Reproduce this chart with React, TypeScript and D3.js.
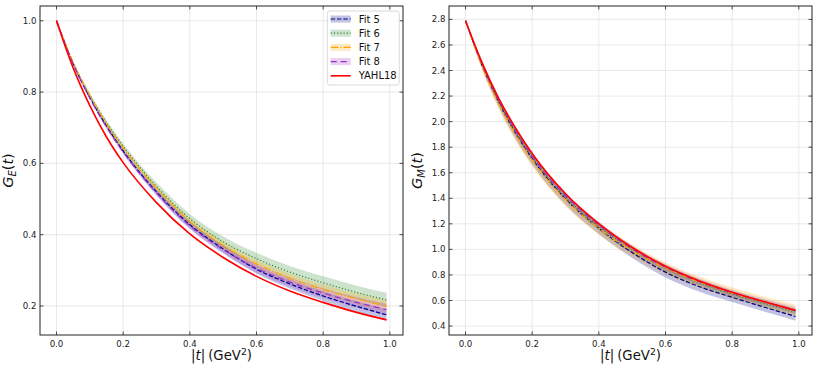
import React from "react";
import * as d3 from "d3";

// |t| sample points (GeV^2)
const tVals = [0, 0.05, 0.1, 0.15, 0.2, 0.3, 0.4, 0.5, 0.6, 0.7, 0.8, 0.9, 0.99];

// G_E(t)
const geYahl = [1.0, 0.868, 0.762, 0.674, 0.602, 0.49, 0.402, 0.336, 0.283, 0.242, 0.21, 0.182, 0.161];
const geFit5 = [1.0, 0.88, 0.785, 0.705, 0.635, 0.52, 0.428, 0.36, 0.303, 0.262, 0.228, 0.199, 0.175];
const geFit6 = [1.0, 0.883, 0.792, 0.714, 0.648, 0.535, 0.445, 0.38, 0.333, 0.295, 0.265, 0.238, 0.217];
const geFit7 = [1.0, 0.882, 0.79, 0.711, 0.643, 0.53, 0.437, 0.37, 0.318, 0.278, 0.246, 0.22, 0.2];
const geFit8 = [1.0, 0.879, 0.783, 0.702, 0.632, 0.517, 0.425, 0.358, 0.306, 0.267, 0.236, 0.21, 0.19];
const geErr5 = [0, 0.002, 0.004, 0.005, 0.006, 0.008, 0.01, 0.011, 0.012, 0.013, 0.014, 0.015, 0.016];
const geErr6 = [0, 0.003, 0.005, 0.007, 0.008, 0.011, 0.013, 0.015, 0.016, 0.017, 0.018, 0.019, 0.02];
const geErr7 = [0, 0.002, 0.004, 0.005, 0.006, 0.008, 0.01, 0.011, 0.012, 0.013, 0.014, 0.015, 0.016];
const geErr8 = [0, 0.002, 0.004, 0.005, 0.006, 0.008, 0.01, 0.011, 0.012, 0.013, 0.014, 0.015, 0.016];

// G_M(t)
const gmYahl = [2.79, 2.46, 2.18, 1.95, 1.75, 1.435, 1.2, 1.015, 0.868, 0.755, 0.665, 0.588, 0.522];
const gmFit5 = [2.79, 2.44, 2.15, 1.91, 1.71, 1.395, 1.165, 0.975, 0.822, 0.71, 0.625, 0.545, 0.475];
const gmFit6 = [2.79, 2.445, 2.16, 1.925, 1.725, 1.41, 1.18, 0.995, 0.85, 0.74, 0.65, 0.575, 0.512];
const gmFit7 = [2.79, 2.43, 2.14, 1.9, 1.7, 1.39, 1.165, 0.99, 0.852, 0.745, 0.658, 0.585, 0.522];
const gmFit8 = [2.79, 2.445, 2.165, 1.93, 1.73, 1.42, 1.19, 1.005, 0.86, 0.75, 0.66, 0.586, 0.525];
const gmErr5 = [0, 0.025, 0.038, 0.044, 0.046, 0.046, 0.045, 0.043, 0.041, 0.039, 0.037, 0.035, 0.033];
const gmErr6 = [0, 0.015, 0.024, 0.028, 0.03, 0.03, 0.03, 0.029, 0.028, 0.027, 0.026, 0.025, 0.024];
const gmErr7 = [0, 0.03, 0.045, 0.05, 0.052, 0.052, 0.05, 0.048, 0.046, 0.044, 0.043, 0.043, 0.045];
const gmErr8 = [0, 0.015, 0.022, 0.025, 0.026, 0.026, 0.026, 0.025, 0.025, 0.024, 0.024, 0.024, 0.024];

const xTicks = [0, 0.2, 0.4, 0.6, 0.8, 1.0];
const geTicks = [0.2, 0.4, 0.6, 0.8, 1.0];
const gmTicks = [0.4, 0.6, 0.8, 1.0, 1.2, 1.4, 1.6, 1.8, 2.0, 2.2, 2.4, 2.6, 2.8];

const fitNames = ["Fit 5", "Fit 6", "Fit 7", "Fit 8"];
const fitColors = ["#00008b", "#2e8b2e", "#ffa500", "#9932cc"];
const fitDashes = ["4.4,1.9", "1.2,2", "7.7,1.9,1.2,1.9", "6,4"];
const yahlName = "YAHL18";
const yahlColor = "#ff0000";

const FONT = "DejaVu Sans, sans-serif";
const TOP = 6, BOTTOM = 335;

function Panel({ x0, x1, yDomain, yTicks, yahl, fits, errs, sub, legend }: any) {
  const x = d3.scaleLinear().domain([-0.0495, 1.0395]).range([x0, x1]);
  const y = d3.scaleLinear().domain(yDomain).range([BOTTOM, TOP]);
  const line = d3.line<number>().x((_, i) => x(tVals[i])).y((d) => y(d)).curve(d3.curveMonotoneX);
  const bandFor = (vals: number[], err: number[]) =>
    d3.area<number>()
      .x((_, i) => x(tVals[i]))
      .y0((d, i) => y(d - err[i]))
      .y1((d, i) => y(d + err[i]))
      .curve(d3.curveMonotoneX)(vals) as string;
  const tk = 3.5;
  const midY = (TOP + BOTTOM) / 2;
  const labX = x0 - 27;
  return (
    <g>
      {/* grid */}
      {xTicks.map((v) => (
        <line key={"gx" + v} x1={x(v)} x2={x(v)} y1={TOP} y2={BOTTOM} stroke="#e3e3e3" strokeWidth={0.8} />
      ))}
      {yTicks.map((v: number) => (
        <line key={"gy" + v} x1={x0} x2={x1} y1={y(v)} y2={y(v)} stroke="#e3e3e3" strokeWidth={0.8} />
      ))}
      {/* bands */}
      {fits.map((f: number[], i: number) => (
        <path key={"b" + i} d={bandFor(f, errs[i])} fill={fitColors[i]} fillOpacity={0.24} stroke="none" />
      ))}
      {/* lines */}
      {fits.map((f: number[], i: number) => (
        <path key={"l" + i} d={line(f) as string} fill="none" stroke={fitColors[i]} strokeWidth={1.2} strokeDasharray={fitDashes[i]} />
      ))}
      <path d={line(yahl) as string} fill="none" stroke={yahlColor} strokeWidth={1.6} />
      {/* frame */}
      <rect x={x0} y={TOP} width={x1 - x0} height={BOTTOM - TOP} fill="none" stroke="#222" strokeWidth={1} />
      {/* ticks */}
      {xTicks.map((v) => (
        <g key={"tx" + v}>
          <line x1={x(v)} x2={x(v)} y1={BOTTOM} y2={BOTTOM - tk} stroke="#222" strokeWidth={0.8} />
          <line x1={x(v)} x2={x(v)} y1={TOP} y2={TOP + tk} stroke="#222" strokeWidth={0.8} />
          <text x={x(v)} y={BOTTOM + 11.5} textAnchor="middle" fontSize={8.6} fill="#222" fontFamily={FONT}>
            {v.toFixed(1)}
          </text>
        </g>
      ))}
      {yTicks.map((v: number) => (
        <g key={"ty" + v}>
          <line x1={x0} x2={x0 + tk} y1={y(v)} y2={y(v)} stroke="#222" strokeWidth={0.8} />
          <line x1={x1} x2={x1 - tk} y1={y(v)} y2={y(v)} stroke="#222" strokeWidth={0.8} />
          <text x={x0 - 3.5} y={y(v) + 3} textAnchor="end" fontSize={8.6} fill="#222" fontFamily={FONT}>
            {v.toFixed(1)}
          </text>
        </g>
      ))}
      {/* x label */}
      <text x={(x0 + x1) / 2} y={360} textAnchor="middle" fontSize={13.3} fill="#111" fontFamily={FONT}>
        <tspan>|</tspan>
        <tspan fontStyle="italic">t</tspan>
        <tspan>|</tspan>
        <tspan dx={3}>(GeV</tspan>
        <tspan fontSize={9.3} dy={-5}>2</tspan>
        <tspan dy={5}>)</tspan>
      </text>
      {/* y label */}
      <text transform={`translate(${labX},${midY}) rotate(-90)`} textAnchor="middle" fontSize={14.5} fill="#111" fontFamily={FONT}>
        <tspan fontStyle="italic">G</tspan>
        <tspan fontStyle="italic" fontSize={10} dy={3}>{sub}</tspan>
        <tspan dy={-3}>(</tspan>
        <tspan fontStyle="italic">t</tspan>
        <tspan>)</tspan>
      </text>
      {legend && (
        <g>
          <rect x={327.3} y={11} width={72} height={74} rx={2.5} fill="#fff" fillOpacity={0.85} stroke="#d0d0d0" strokeWidth={0.8} />
          {fitNames.map((n, i) => {
            const ly = 19 + i * 14.2;
            return (
              <g key={n}>
                <rect x={330.7} y={ly - 3.5} width={20} height={7} fill={fitColors[i]} fillOpacity={0.24} />
                <line x1={330.7} x2={350.7} y1={ly} y2={ly} stroke={fitColors[i]} strokeWidth={1.2} strokeDasharray={fitDashes[i]} />
                <text x={358.7} y={ly + 3.5} fontSize={10} fill="#111" fontFamily={FONT}>{n}</text>
              </g>
            );
          })}
          <line x1={330.7} x2={350.7} y1={19 + 4 * 14.2} y2={19 + 4 * 14.2} stroke={yahlColor} strokeWidth={1.6} />
          <text x={358.7} y={19 + 4 * 14.2 + 3.5} fontSize={10} fill="#111" fontFamily={FONT}>{yahlName}</text>
        </g>
      )}
    </g>
  );
}

export default function App() {
  return (
    <svg width={819} height={373} style={{ position: "absolute", left: 0, top: 0, background: "#fff" }}>
      <Panel
        x0={40}
        x1={403}
        yDomain={[0.1185, 1.0415]}
        yTicks={geTicks}
        yahl={geYahl}
        fits={[geFit5, geFit6, geFit7, geFit8]}
        errs={[geErr5, geErr6, geErr7, geErr8]}
        sub="E"
        legend
      />
      <Panel
        x0={449}
        x1={812}
        yDomain={[0.33, 2.905]}
        yTicks={gmTicks}
        yahl={gmYahl}
        fits={[gmFit5, gmFit6, gmFit7, gmFit8]}
        errs={[gmErr5, gmErr6, gmErr7, gmErr8]}
        sub="M"
      />
    </svg>
  );
}
